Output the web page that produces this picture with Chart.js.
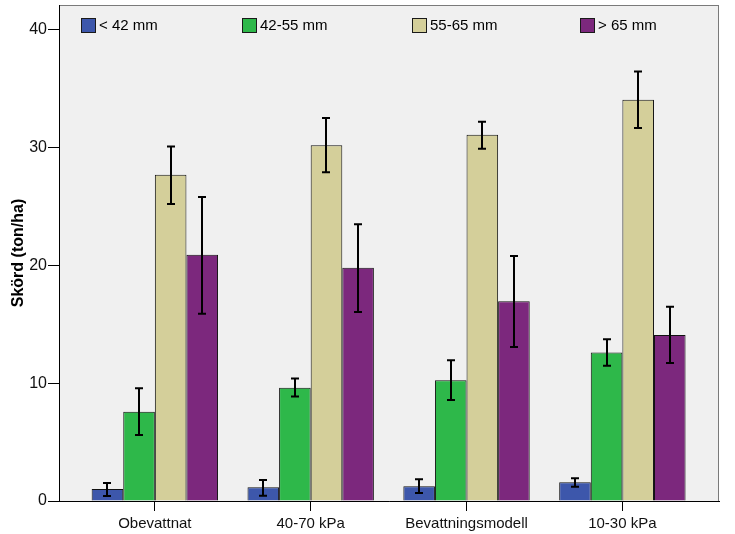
<!DOCTYPE html>
<html>
<head>
<meta charset="utf-8">
<script src="https://cdn.jsdelivr.net/npm/chart.js@4.4.1/dist/chart.umd.min.js"></script>
<style>
  html, body { margin: 0; padding: 0; background: #fff; }
  #wrap { width: 735px; height: 534px; }
</style>
</head>
<body>
<div id="wrap"><canvas id="skordChart" width="735" height="534"></canvas></div>
<script>
// kategorier och serier
const categories = ['Obevattnat', '40-70 kPa', 'Bevattningsmodell', '10-30 kPa'];
const seriesNames = ['< 42 mm', '42-55 mm', '55-65 mm', '> 65 mm'];
const yTicks = [0, 10, 20, 30, 40];

// medelvärden (ton/ha)
const small = [1.02, 1.16, 1.25, 1.59];
const medium = [7.58, 9.62, 10.25, 12.6];
const large = [27.7, 30.2, 31.08, 34.06];
const xlarge = [20.9, 19.8, 16.96, 14.1];

// felstaplar, undre och övre gräns
const smallLo = [0.42, 0.45, 0.68, 1.22];
const smallHi = [1.53, 1.78, 1.84, 1.93];
const mediumLo = [5.6, 8.86, 8.58, 11.47];
const mediumHi = [9.57, 10.39, 11.95, 13.73];
const largeLo = [25.2, 27.9, 29.9, 31.65];
const largeHi = [30.1, 32.5, 32.2, 36.46];
const xlargeLo = [15.9, 16.05, 13.08, 11.72];
const xlargeHi = [25.8, 23.5, 20.8, 16.48];

const FONT = "'Liberation Sans', Arial, sans-serif";
const colors = ['#3d57ab', '#2eb84a', '#d4cf9a', '#7c287d'];

function toPoints(arr) {
    return arr.map((v, i) => ({ x: i, y: v }));
}

const means = [small, medium, large, xlarge];
const lows = [smallLo, mediumLo, largeLo, xlargeLo];
const highs = [smallHi, mediumHi, largeHi, xlargeHi];

const datasets = seriesNames.map((name, k) => ({
    label: name,
    data: toPoints(means[k]),
    errLo: lows[k],
    errHi: highs[k],
    backgroundColor: colors[k],
    borderColor: '#111',
    borderWidth: 1,
    categoryPercentage: 0.811,
    barPercentage: 1.0
}));

// bakgrund för ritytan
const plotBackground = {
    id: 'plotBackground',
    beforeDraw(chart) {
        const { ctx, chartArea: a } = chart;
        ctx.save();
        ctx.fillStyle = '#ffffff';
        ctx.fillRect(0, 0, chart.width, chart.height);
        ctx.fillStyle = '#f0f0f0';
        ctx.fillRect(a.left, a.top, a.right - a.left, a.bottom - a.top);
        ctx.strokeStyle = '#7a7a7a';
        ctx.lineWidth = 1;
        ctx.strokeRect(a.left + 0.5, a.top + 0.5, a.right - a.left - 1, a.bottom - a.top);
        ctx.restore();
    }
};

// felstaplar ritas ovanpå staplarna
const errorBars = {
    id: 'errorBars',
    afterDatasetsDraw(chart) {
        const { ctx } = chart;
        const yScale = chart.scales.y;
        ctx.save();
        ctx.strokeStyle = '#000';
        ctx.lineWidth = 2;
        chart.data.datasets.forEach((ds, i) => {
            const meta = chart.getDatasetMeta(i);
            meta.data.forEach((bar, j) => {
                const x = Math.round(bar.x);
                const top = yScale.getPixelForValue(ds.errHi[j]);
                const bot = yScale.getPixelForValue(ds.errLo[j]);
                ctx.beginPath();
                ctx.moveTo(x, top);
                ctx.lineTo(x, bot);
                ctx.moveTo(x - 4, top);
                ctx.lineTo(x + 4, top);
                ctx.moveTo(x - 4, bot);
                ctx.lineTo(x + 4, bot);
                ctx.stroke();
            });
        });
        ctx.restore();
    }
};

// förklaring inne i ritytan
const insideLegend = {
    id: 'insideLegend',
    afterDraw(chart) {
        const { ctx, chartArea: a } = chart;
        const offsets = [22, 183, 353, 521];
        ctx.save();
        ctx.font = '15px ' + FONT;
        ctx.textBaseline = 'middle';
        chart.data.datasets.forEach((ds, i) => {
            const bx = a.left + offsets[i];
            const by = a.top + 13;
            ctx.fillStyle = ds.backgroundColor;
            ctx.fillRect(bx, by, 15, 15);
            ctx.strokeStyle = '#1a1a1a';
            ctx.lineWidth = 1;
            ctx.strokeRect(bx + 0.5, by + 0.5, 14, 14);
            ctx.fillStyle = '#000';
            ctx.fillText(ds.label, bx + 18, by + 8);
        });
        ctx.restore();
    }
};

new Chart(document.getElementById('skordChart').getContext('2d'), {
    type: 'bar',
    data: { datasets: datasets },
    options: {
        responsive: false,
        animation: false,
        layout: { padding: { top: 5, right: 16, bottom: 0, left: 0 } },
        plugins: {
            legend: { display: false },
            tooltip: { enabled: false }
        },
        scales: {
            x: {
                type: 'linear',
                offset: false,
                min: -0.615,
                max: 3.62,
                afterBuildTicks: (axis) => {
                    axis.ticks = categories.map((c, i) => ({ value: i }));
                },
                afterFit: (axis) => {
                    axis.height = 33;
                    axis.paddingLeft = 0;
                    axis.paddingRight = 0;
                },
                ticks: {
                    autoSkip: false,
                    maxRotation: 0,
                    padding: 4,
                    color: '#111',
                    font: { family: FONT, size: 15 },
                    callback: (v) => categories[v]
                },
                grid: { offset: false, drawOnChartArea: false, drawTicks: true, tickLength: 10, color: '#000' },
                border: { display: true, color: '#000', width: 1 }
            },
            y: {
                min: 0,
                max: 42.1,
                afterBuildTicks: (axis) => {
                    axis.ticks = yTicks.map(v => ({ value: v }));
                },
                afterFit: (axis) => {
                    axis.width = 59;
                    axis.paddingTop = 0;
                    axis.paddingBottom = 0;
                },
                ticks: {
                    padding: 1,
                    color: '#111',
                    font: { family: FONT, size: 16 }
                },
                grid: { drawOnChartArea: false, drawTicks: true, tickLength: 11, color: '#000' },
                border: { display: true, color: '#000', width: 1 },
                title: {
                    display: true,
                    text: 'Skörd (ton/ha)',
                    color: '#000',
                    font: { family: FONT, size: 16, weight: 'bold' },
                    padding: { top: 9, bottom: 0 }
                }
            }
        }
    },
    plugins: [plotBackground, errorBars, insideLegend]
});
</script>
</body>
</html>
